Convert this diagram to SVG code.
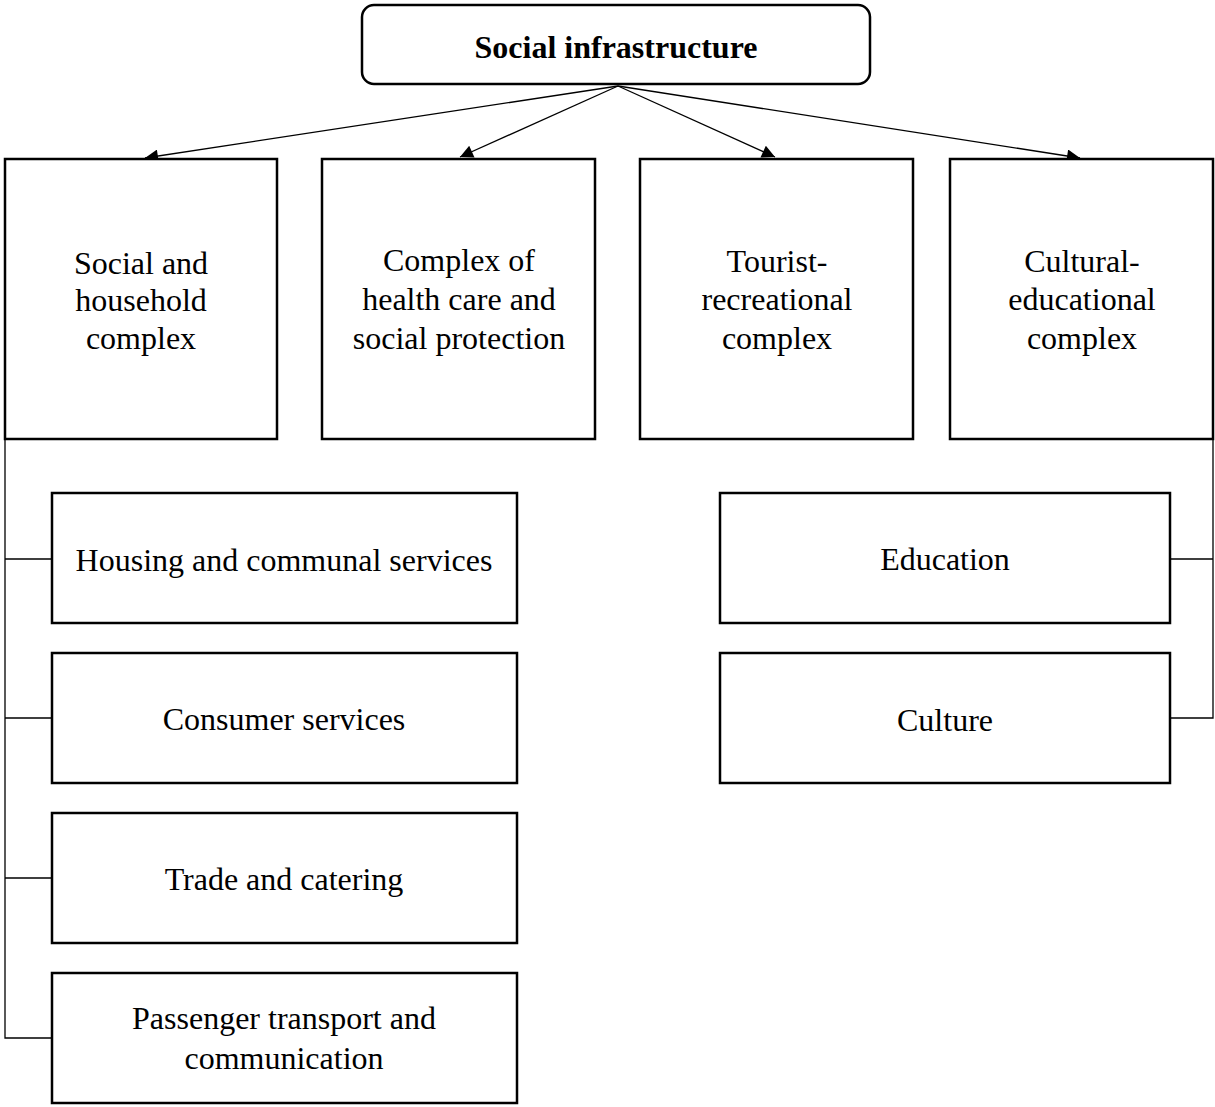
<svg xmlns="http://www.w3.org/2000/svg" width="1215" height="1107" viewBox="0 0 1215 1107">
<style>
.box{fill:#fff;stroke:#000;stroke-width:2.5}
.t{font-family:"Liberation Serif","Times New Roman",serif;font-size:32px;fill:#000;text-anchor:middle}
.b{font-weight:bold}
.c{fill:none;stroke:#000;stroke-width:1.3}
</style>
<defs>
<marker id="ah" viewBox="0 0 10 10" refX="10" refY="5" markerWidth="16" markerHeight="13" markerUnits="userSpaceOnUse" orient="auto">
<path d="M0,0 L10,5 L0,10 z" fill="#000"/>
</marker>
</defs>
<g id="connectors">
<line class="c" x1="618" y1="86" x2="145" y2="158" marker-end="url(#ah)"/>
<line class="c" x1="618" y1="86" x2="460" y2="157" marker-end="url(#ah)"/>
<line class="c" x1="618" y1="86" x2="775" y2="157" marker-end="url(#ah)"/>
<line class="c" x1="618" y1="86" x2="1080" y2="158" marker-end="url(#ah)"/>
<path class="c" d="M5,439 V1038 H52 M5,559 H52 M5,718 H52 M5,878 H52"/>
<path class="c" d="M1213,439 V718 H1170 M1213,559 H1170"/>
</g>
<g id="root">
<rect class="box" x="362" y="5" width="508" height="79" rx="12" stroke-width="3"/>
<text class="t b" x="616" y="58">Social infrastructure</text>
</g>
<g id="n1">
<rect class="box" x="5" y="159" width="272" height="280"/>
<text class="t" x="141" y="274">Social and</text>
<text class="t" x="141" y="311">household</text>
<text class="t" x="141" y="349">complex</text>
</g>
<g id="n2">
<rect class="box" x="322" y="159" width="273" height="280"/>
<text class="t" x="459" y="271">Complex of</text>
<text class="t" x="459" y="310">health care and</text>
<text class="t" x="459" y="349">social protection</text>
</g>
<g id="n3">
<rect class="box" x="640" y="159" width="273" height="280"/>
<text class="t" x="777" y="272">Tourist-</text>
<text class="t" x="777" y="310">recreational</text>
<text class="t" x="777" y="349">complex</text>
</g>
<g id="n4">
<rect class="box" x="950" y="159" width="263" height="280"/>
<text class="t" x="1082" y="272">Cultural-</text>
<text class="t" x="1082" y="310">educational</text>
<text class="t" x="1082" y="349">complex</text>
</g>
<g id="n5">
<rect class="box" x="52" y="493" width="465" height="130"/>
<text class="t" x="284" y="571">Housing and communal services</text>
</g>
<g id="n6">
<rect class="box" x="52" y="653" width="465" height="130"/>
<text class="t" x="284" y="730">Consumer services</text>
</g>
<g id="n7">
<rect class="box" x="52" y="813" width="465" height="130"/>
<text class="t" x="284" y="890">Trade and catering</text>
</g>
<g id="n8">
<rect class="box" x="52" y="973" width="465" height="130"/>
<text class="t" x="284" y="1029">Passenger transport and</text>
<text class="t" x="284" y="1069">communication</text>
</g>
<g id="n9">
<rect class="box" x="720" y="493" width="450" height="130"/>
<text class="t" x="945" y="570">Education</text>
</g>
<g id="n10">
<rect class="box" x="720" y="653" width="450" height="130"/>
<text class="t" x="945" y="731">Culture</text>
</g>
</svg>
